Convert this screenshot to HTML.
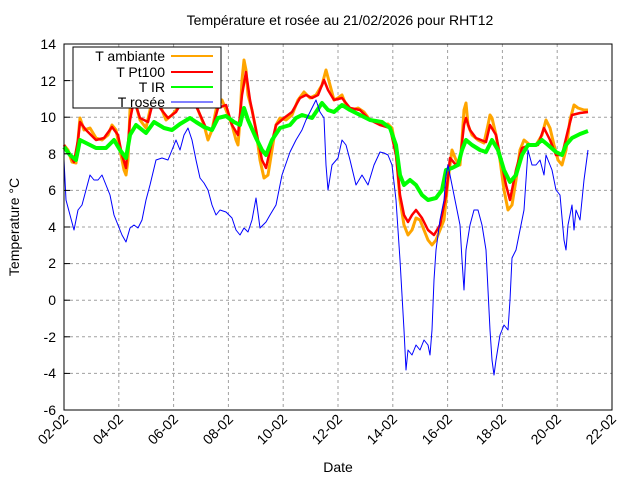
<!DOCTYPE html>
<html><head><meta charset="utf-8"><style>body{margin:0;background:#fff}svg{display:block}text{font-family:"Liberation Sans",sans-serif;font-size:14px;fill:#000}</style></head>
<body>
<svg width="640" height="480" viewBox="0 0 640 480">
<g stroke="#a0a0a0" stroke-dasharray="3,3" stroke-width="1">
<line x1="64" x2="612" y1="80.6" y2="80.6"/><line x1="64" x2="612" y1="117.2" y2="117.2"/><line x1="64" x2="612" y1="153.8" y2="153.8"/><line x1="64" x2="612" y1="190.4" y2="190.4"/><line x1="64" x2="612" y1="227" y2="227"/><line x1="64" x2="612" y1="263.6" y2="263.6"/><line x1="64" x2="612" y1="300.2" y2="300.2"/><line x1="64" x2="612" y1="336.8" y2="336.8"/><line x1="64" x2="612" y1="373.4" y2="373.4"/>
<line x1="118.8" x2="118.8" y1="44" y2="410"/><line x1="173.6" x2="173.6" y1="44" y2="410"/><line x1="228.4" x2="228.4" y1="44" y2="410"/><line x1="283.2" x2="283.2" y1="44" y2="410"/><line x1="338" x2="338" y1="44" y2="410"/><line x1="392.8" x2="392.8" y1="44" y2="410"/><line x1="447.6" x2="447.6" y1="44" y2="410"/><line x1="502.4" x2="502.4" y1="44" y2="410"/><line x1="557.2" x2="557.2" y1="44" y2="410"/>
</g>
<g fill="none" stroke-linejoin="round">
<polyline stroke="#ffa500" stroke-width="3" points="64,145 68,150 72,162 76,163 78,140 80,118 84,130 90,128 96,138 102,140 108,135 112,125 116,130 120,150 124,170 126,175 128,160 130,110 132,95 136,105 140,120 146,128 150,110 155,92 160,105 166,120 172,115 178,108 182,100 186,92 190,90 196,105 200,115 204,125 208,140 212,130 216,110 222,100 228,115 232,125 236,140 238,145 240,120 242,80 244,60 246,70 248,95 252,110 256,130 260,160 264,178 268,175 272,150 276,125 280,118 286,120 292,115 298,100 304,92 310,98 316,95 322,85 326,70 330,85 334,100 338,98 342,95 346,105 352,110 358,108 364,112 370,120 376,122 382,125 388,124 392,128 396,150 400,200 404,225 408,235 412,230 416,218 420,220 424,230 428,240 432,245 436,240 440,230 444,220 448,180 452,150 456,160 460,165 462,140 464,110 466,103 468,125 472,135 478,140 484,143 488,125 490,115 492,118 496,135 500,160 504,190 508,210 512,205 516,180 520,150 524,140 530,145 536,145 542,135 546,120 550,128 554,145 558,160 562,165 566,150 570,120 574,105 578,108 584,110 588,110"/>
<polyline stroke="#ff0000" stroke-width="2.5" points="64,145 70,155 74,162 78,140 80,122 86,130 96,140 104,138 112,127 118,135 122,155 126,168 130,120 134,100 140,118 148,122 154,98 160,108 168,118 176,112 184,98 190,95 198,110 206,128 212,130 218,108 226,105 232,125 238,135 242,95 246,72 250,100 256,130 262,160 266,168 270,150 276,125 284,118 292,112 300,98 306,95 312,98 318,95 324,80 328,90 334,100 342,98 350,108 360,110 370,120 380,125 390,128 396,155 400,195 404,215 408,222 412,215 416,210 422,218 428,230 434,235 440,225 446,195 450,158 456,165 460,160 464,125 466,118 470,130 476,138 486,142 490,125 496,135 502,165 506,185 510,200 516,170 522,148 530,145 538,145 544,128 550,140 556,155 562,155 568,130 572,115 580,113 588,112"/>
<polyline stroke="#00ff00" stroke-width="4" points="64,147 70,155 76,160 80,140 86,143 96,148 106,148 114,140 120,150 126,158 130,135 136,125 146,133 154,122 164,128 172,130 180,124 190,118 196,122 204,127 212,130 218,118 226,116 234,122 240,125 244,108 248,120 256,138 262,150 266,155 272,140 280,128 290,125 296,118 302,115 312,118 322,103 328,110 334,112 342,105 350,110 360,115 370,120 382,122 390,128 396,145 400,175 404,185 410,180 416,185 422,195 428,200 436,198 442,190 446,170 452,168 458,165 462,150 466,140 472,145 480,150 486,152 492,140 498,150 504,170 510,182 516,175 522,155 528,145 536,145 542,140 548,145 556,152 562,155 566,145 572,138 580,134 588,131"/>
<polyline stroke="#0000ff" stroke-width="1" points="64,160 66,200 70,215 74,230 78,210 82,205 86,190 90,175 94,180 98,180 102,175 106,185 110,195 114,215 118,225 122,235 126,242 130,228 134,225 138,228 142,220 146,200 150,185 156,160 162,158 168,160 176,140 180,150 184,135 188,128 192,140 196,160 200,178 204,183 208,190 212,205 216,215 220,210 226,212 232,218 236,230 240,235 244,228 248,232 252,220 256,198 260,228 266,222 270,215 276,205 282,175 290,152 296,140 302,130 306,120 312,108 316,100 320,112 324,118 326,165 328,190 332,165 338,158 342,140 346,145 350,160 356,185 362,175 368,185 374,165 380,152 384,153 388,155 392,165 396,200 400,260 404,330 406,370 408,350 412,355 416,345 420,350 424,340 428,345 430,355 432,330 434,280 436,250 440,220 444,200 446,175 448,165 452,185 456,205 460,225 462,260 464,290 466,250 470,225 474,210 478,210 482,225 486,250 488,290 490,330 492,360 494,375 496,360 500,335 504,325 508,330 510,300 512,258 516,250 520,230 524,210 526,180 528,150 532,165 536,165 540,160 544,175 546,155 552,170 556,190 560,195 564,240 566,250 568,225 572,205 574,230 576,210 580,220 584,180 588,150"/>
</g>
<rect x="64" y="44" width="548" height="366" fill="none" stroke="#000"/>
<g stroke="#000"><line x1="64" x2="70" y1="80.6" y2="80.6"/><line x1="64" x2="70" y1="117.2" y2="117.2"/><line x1="64" x2="70" y1="153.8" y2="153.8"/><line x1="64" x2="70" y1="190.4" y2="190.4"/><line x1="64" x2="70" y1="227" y2="227"/><line x1="64" x2="70" y1="263.6" y2="263.6"/><line x1="64" x2="70" y1="300.2" y2="300.2"/><line x1="64" x2="70" y1="336.8" y2="336.8"/><line x1="64" x2="70" y1="373.4" y2="373.4"/></g>
<rect x="73" y="47" width="148" height="61" fill="#fff" stroke="#000"/>
<g font-size="14" text-anchor="end">
<text x="165" y="61">T ambiante</text><text x="165" y="77">T Pt100</text><text x="165" y="92">T IR</text><text x="165" y="107">T rosée</text></g>
<line x1="171" x2="213" y1="56" y2="56" stroke="#ffa500" stroke-width="2"/>
<line x1="171" x2="213" y1="72" y2="72" stroke="#ff0000" stroke-width="2"/>
<line x1="171" x2="213" y1="87" y2="87" stroke="#00ff00" stroke-width="2"/>
<line x1="171" x2="213" y1="102" y2="102" stroke="#0000ff" stroke-width="1"/>
<g text-anchor="end"><text x="56" y="49">14</text><text x="56" y="86">12</text><text x="56" y="122">10</text><text x="56" y="159">8</text><text x="56" y="195">6</text><text x="56" y="232">4</text><text x="56" y="268">2</text><text x="56" y="305">0</text><text x="56" y="342">-2</text><text x="56" y="378">-4</text><text x="56" y="415">-6</text></g>
<g text-anchor="end">
<text transform="translate(69,420) rotate(-45)">02-02</text><text transform="translate(124,420) rotate(-45)">04-02</text><text transform="translate(179,420) rotate(-45)">06-02</text><text transform="translate(234,420) rotate(-45)">08-02</text><text transform="translate(288,420) rotate(-45)">10-02</text><text transform="translate(343,420) rotate(-45)">12-02</text><text transform="translate(398,420) rotate(-45)">14-02</text><text transform="translate(453,420) rotate(-45)">16-02</text><text transform="translate(507,420) rotate(-45)">18-02</text><text transform="translate(562,420) rotate(-45)">20-02</text><text transform="translate(617,420) rotate(-45)">22-02</text></g>
<text x="340" y="25" text-anchor="middle">Température et rosée au 21/02/2026 pour RHT12</text>
<text x="338" y="472" text-anchor="middle">Date</text>
<text transform="translate(19,227) rotate(-90)" text-anchor="middle">Temperature °C</text>
</svg>
</body></html>
